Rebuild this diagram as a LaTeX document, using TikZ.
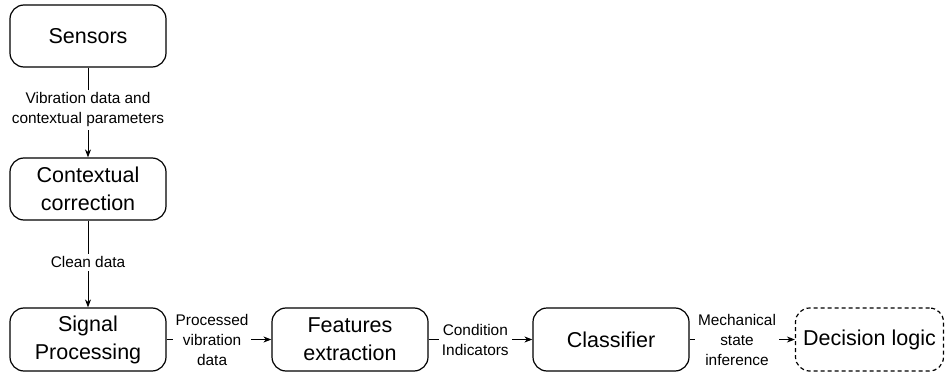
\documentclass[tikz,border=0pt]{standalone}
\usepackage{fontspec}
\setmainfont{Liberation Sans}
\usetikzlibrary{arrows.meta}
\begin{document}
\begin{tikzpicture}[x=1pt,y=-1pt,
  box/.style={draw, rounded corners=14pt, line width=1.2pt, minimum width=156pt, minimum height=62pt,
    align=center, font=\fontsize{21.5}{28}\selectfont, inner sep=0pt},
  dbox/.style={box, dashed, dash pattern=on 4pt off 3pt},
  conn/.style={line width=0.9pt, -{Stealth[length=8pt,width=6pt,inset=2.5pt]}},
  lab/.style={fill=white, align=center, inner sep=3pt, font=\fontsize{15.4}{20}\selectfont}
]
\useasboundingbox (0,0) rectangle (945,377);
\node[box] (sens) at (88,36) {Sensors};
\node[box] (ctx) at (88,189) {Contextual\\correction};
\node[box, minimum height=63pt] (sig) at (88,339.5) {Signal\\Processing};
\node[box, minimum height=63pt] (feat) at (350,339.5) {Features\\extraction};
\node[box, minimum height=63pt] (cls) at (611,339.5) {Classifier};
\node[dbox, minimum height=63pt, minimum width=148pt] (dec) at (869.5,339.5) {Decision logic};

\draw[conn] (sens) -- node[lab, pos=0.47] {Vibration data and\\contextual parameters} (ctx);
\draw[conn] (ctx) -- node[lab, pos=0.48] {Clean data} (sig);
\draw[conn] (sig) -- node[lab, pos=0.434] {Processed\\vibration\\data} (feat);
\draw[conn] (feat) -- node[lab, pos=0.45] {Condition\\Indicators} (cls);
\draw[conn] (cls) -- node[lab, pos=0.45] {Mechanical\\state\\inference} (dec);
\end{tikzpicture}
\end{document}
